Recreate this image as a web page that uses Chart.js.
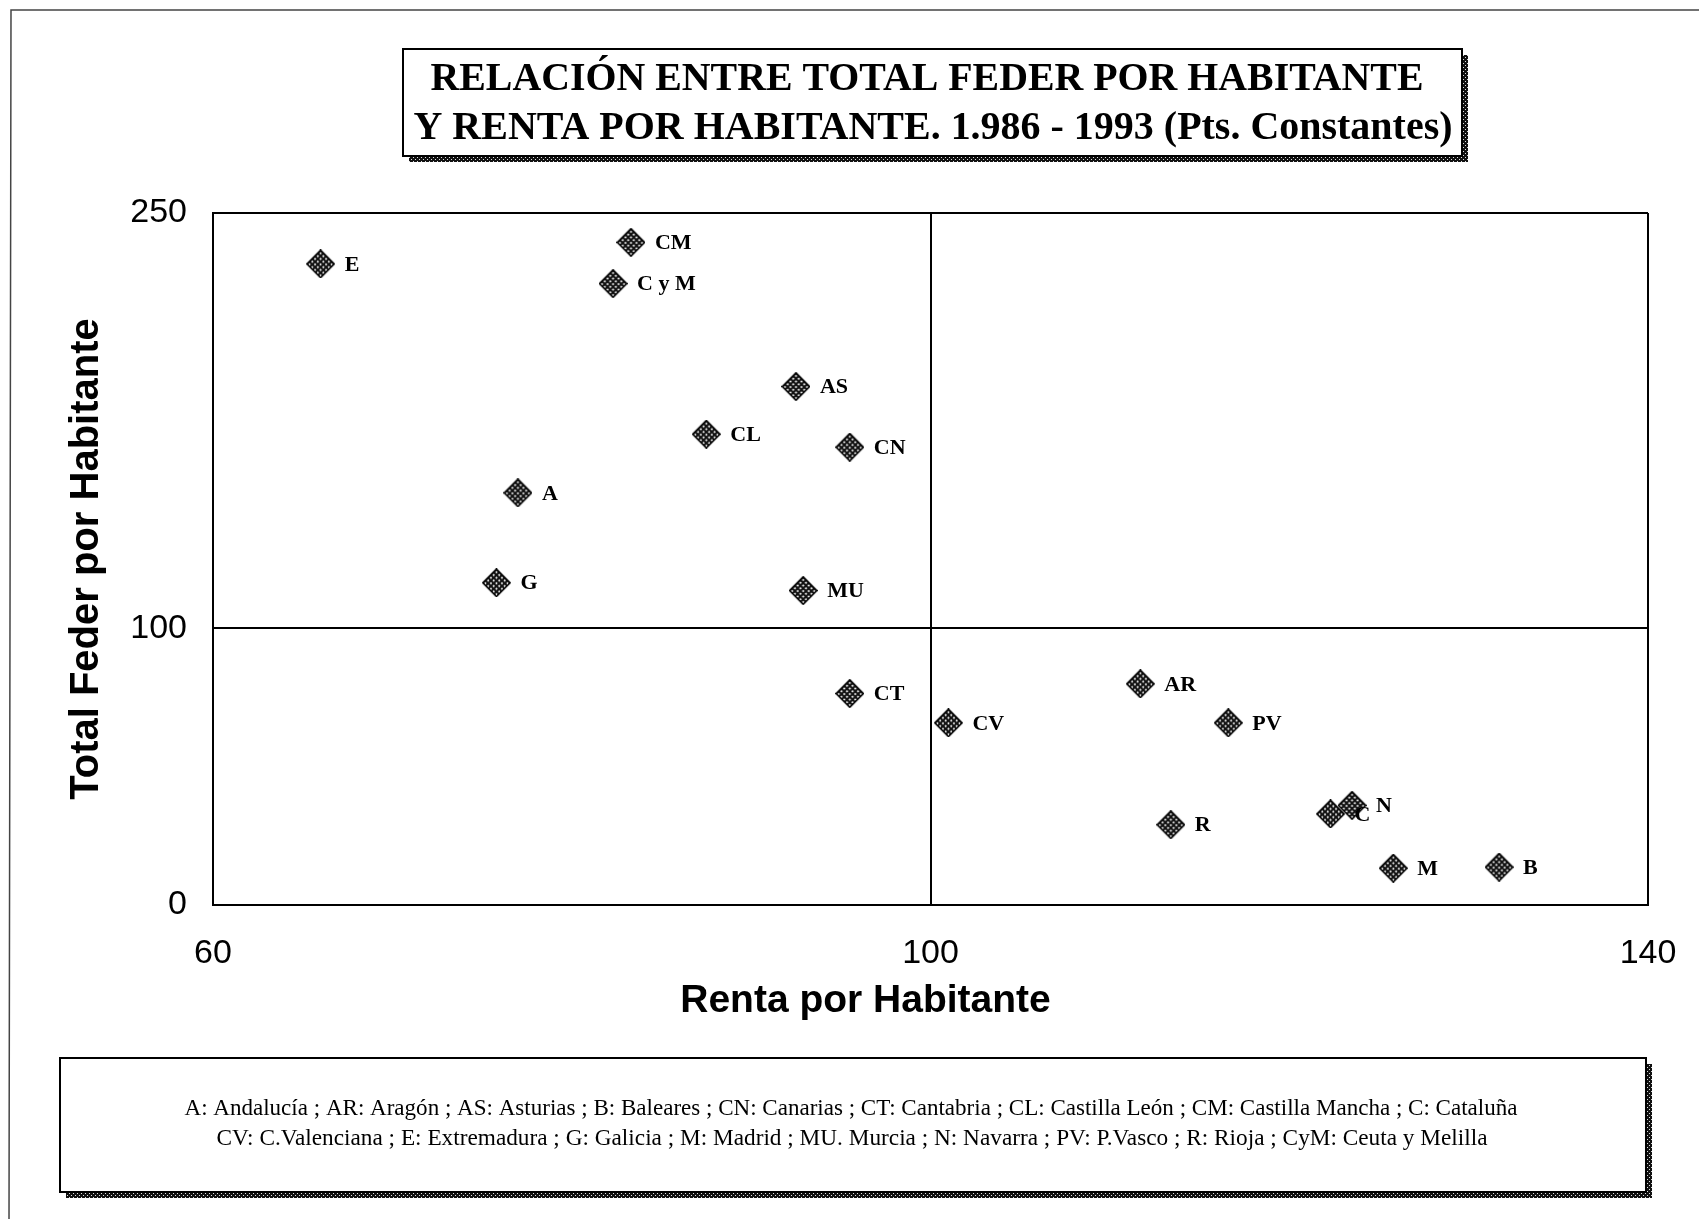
<!DOCTYPE html>
<html>
<head>
<meta charset="utf-8">
<script src="https://cdn.jsdelivr.net/npm/chart.js@4.4.1/dist/chart.umd.min.js"></script>
<style>
  html, body { margin: 0; padding: 0; background: #fff; }
  #chart { display: block; }
</style>
</head>
<body>
<canvas id="chart" width="1699" height="1219"></canvas>
<script>
// Values
const regions = ['E', 'CM', 'C y M', 'AS', 'CL', 'CN', 'A', 'G', 'MU', 'CT', 'CV', 'AR', 'PV', 'R', 'C', 'N', 'M', 'B'];
const renta = [66.0, 83.3, 82.3, 92.5, 87.5, 95.5, 77.0, 75.8, 92.9, 95.5, 101.0, 111.7, 116.6, 113.4, 122.3, 123.5, 125.8, 131.7];
const feder = [231.6, 239.4, 224.5, 187.3, 170.1, 165.4, 148.9, 116.4, 113.6, 76.4, 65.8, 79.9, 65.8, 29.0, 32.9, 36.0, 13.3, 13.7];
const xTicks = [60, 100, 140];
const yTicks = [0, 100, 250];
const titleLines = ['RELACIÓN ENTRE TOTAL FEDER POR HABITANTE', 'Y RENTA POR HABITANTE. 1.986 - 1993 (Pts. Constantes)'];
const noteLines = [
  'A: Andalucía ; AR: Aragón ; AS: Asturias ; B: Baleares ; CN: Canarias ; CT: Cantabria ; CL: Castilla León ; CM: Castilla Mancha ; C: Cataluña',
  'CV: C.Valenciana ; E: Extremadura ; G: Galicia ; M: Madrid ; MU. Murcia ; N: Navarra ; PV: P.Vasco ; R: Rioja ; CyM: Ceuta y Melilla'
];

const serif = '"Liberation Serif", "Times New Roman", serif';
Chart.defaults.font.family = '"Liberation Sans", Arial, sans-serif';
Chart.defaults.color = '#000';

// hatched diamond marker
function makeMarker(size) {
  const c = document.createElement('canvas');
  c.width = size; c.height = size;
  const g = c.getContext('2d');
  const s = size / Math.SQRT2 - 1;
  g.translate(size / 2, size / 2);
  g.rotate(Math.PI / 4);
  g.fillStyle = '#111';
  g.fillRect(-s / 2, -s / 2, s, s);
  g.fillStyle = '#fff';
  const step = s / 5;
  for (let i = 0; i < 5; i++) {
    for (let j = 0; j < 5; j++) {
      g.fillRect(-s / 2 + i * step + step * 0.35, -s / 2 + j * step + step * 0.35, step * 0.45, step * 0.45);
    }
  }
  g.lineWidth = 1.5;
  g.strokeStyle = '#000';
  g.strokeRect(-s / 2, -s / 2, s, s);
  return c;
}

// dotted dark pattern for box shadows
function shadowPattern(ctx) {
  const c = document.createElement('canvas');
  c.width = 4; c.height = 4;
  const g = c.getContext('2d');
  g.fillStyle = '#111';
  g.fillRect(0, 0, 4, 4);
  g.fillStyle = '#ddd';
  g.fillRect(1, 1, 1, 1);
  g.fillRect(3, 3, 1, 1);
  return ctx.createPattern(c, 'repeat');
}

function fitText(ctx, text, cx, cy, width) {
  const w = ctx.measureText(text).width;
  ctx.save();
  ctx.translate(cx, cy);
  ctx.scale(width / w, 1);
  ctx.fillText(text, 0, 0);
  ctx.restore();
}

function shadowBox(ctx, l, t, r, b, d) {
  ctx.fillStyle = shadowPattern(ctx);
  ctx.fillRect(r, t + d, d, b - t);
  ctx.fillRect(l + d, b, r - l, d);
  ctx.strokeStyle = '#000';
  ctx.lineWidth = 2;
  ctx.strokeRect(l, t, r - l, b - t);
}

const background = {
  id: 'background',
  beforeDraw(chart) {
    const ctx = chart.ctx;
    ctx.save();
    ctx.fillStyle = '#fff';
    ctx.fillRect(0, 0, chart.width, chart.height);
    ctx.restore();
  }
};

const decorations = {
  id: 'decorations',
  afterDraw(chart) {
    const ctx = chart.ctx;
    ctx.save();
    // page frame
    ctx.strokeStyle = '#444';
    ctx.lineWidth = 1.5;
    ctx.beginPath();
    ctx.moveTo(9, 1219); ctx.lineTo(11, 10); ctx.lineTo(1699, 10);
    ctx.stroke();

    // title box
    shadowBox(ctx, 403, 49, 1462, 156, 6);
    ctx.fillStyle = '#000';
    ctx.textAlign = 'center';
    ctx.textBaseline = 'middle';
    ctx.font = 'bold 41px ' + serif;
    fitText(ctx, titleLines[0], 927, 79, 993);
    fitText(ctx, titleLines[1], 933, 128, 1039);

    // note box
    shadowBox(ctx, 60, 1058, 1646, 1192, 6);
    ctx.fillStyle = '#000';
    ctx.font = '23px ' + serif;
    fitText(ctx, noteLines[0], 851, 1109, 1333);
    fitText(ctx, noteLines[1], 852, 1139, 1271);
    ctx.restore();
  }
};

const pointLabels = {
  id: 'pointLabels',
  afterDatasetsDraw(chart) {
    const ctx = chart.ctx;
    const meta = chart.getDatasetMeta(0);
    ctx.save();
    ctx.fillStyle = '#000';
    ctx.font = 'bold 22px ' + serif;
    ctx.textAlign = 'left';
    ctx.textBaseline = 'middle';
    meta.data.forEach((pt, i) => {
      ctx.fillText(regions[i], pt.x + 24, pt.y + 1);
    });
    ctx.restore();
  }
};

const marker = makeMarker(29);
const points = renta.map((x, i) => ({ x: x, y: feder[i] }));
const nbsp = '\u00A0'.repeat(12);

const chart = new Chart(document.getElementById('chart'), {
  type: 'scatter',
  data: {
    datasets: [{
      data: points,
      pointStyle: marker,
      pointRadius: 13
    }]
  },
  options: {
    responsive: false,
    animation: false,
    layout: { padding: { left: 63, top: 213, right: 51, bottom: 194 } },
    plugins: {
      legend: { display: false },
      tooltip: { enabled: false }
    },
    scales: {
      x: {
        type: 'linear',
        min: xTicks[0],
        max: xTicks[xTicks.length - 1],
        afterBuildTicks: s => { s.ticks = xTicks.map(v => ({ value: v })); },
        ticks: { font: { size: 34 }, padding: 28, maxRotation: 0 },
        grid: {
          drawTicks: false,
          lineWidth: 2,
          color: c => (c.tick && (c.tick.value === 100 || c.tick.value === 140)) ? '#000' : 'rgba(0,0,0,0)'
        },
        border: { color: '#000', width: 2 },
        title: { display: true, text: 'Renta por Habitante' + nbsp, font: { size: 39, weight: 'bold' }, padding: 0 },
        afterFit: s => {
          s.height = 120;
          s.paddingLeft = 0;
          s.paddingRight = 0;
        }
      },
      y: {
        type: 'linear',
        min: yTicks[0],
        max: yTicks[yTicks.length - 1],
        afterBuildTicks: s => { s.ticks = yTicks.map(v => ({ value: v })); },
        ticks: { font: { size: 34 }, padding: 26 },
        grid: {
          drawTicks: false,
          lineWidth: 2,
          color: c => (c.tick && (c.tick.value === 100 || c.tick.value === 250)) ? '#000' : 'rgba(0,0,0,0)'
        },
        border: { color: '#000', width: 2 },
        title: { display: true, text: 'Total Feder por Habitante', font: { size: 40, weight: 'bold' }, padding: 0 },
        afterFit: s => { s.width = 150; }
      }
    }
  },
  plugins: [background, pointLabels, decorations]
});
</script>
</body>
</html>
